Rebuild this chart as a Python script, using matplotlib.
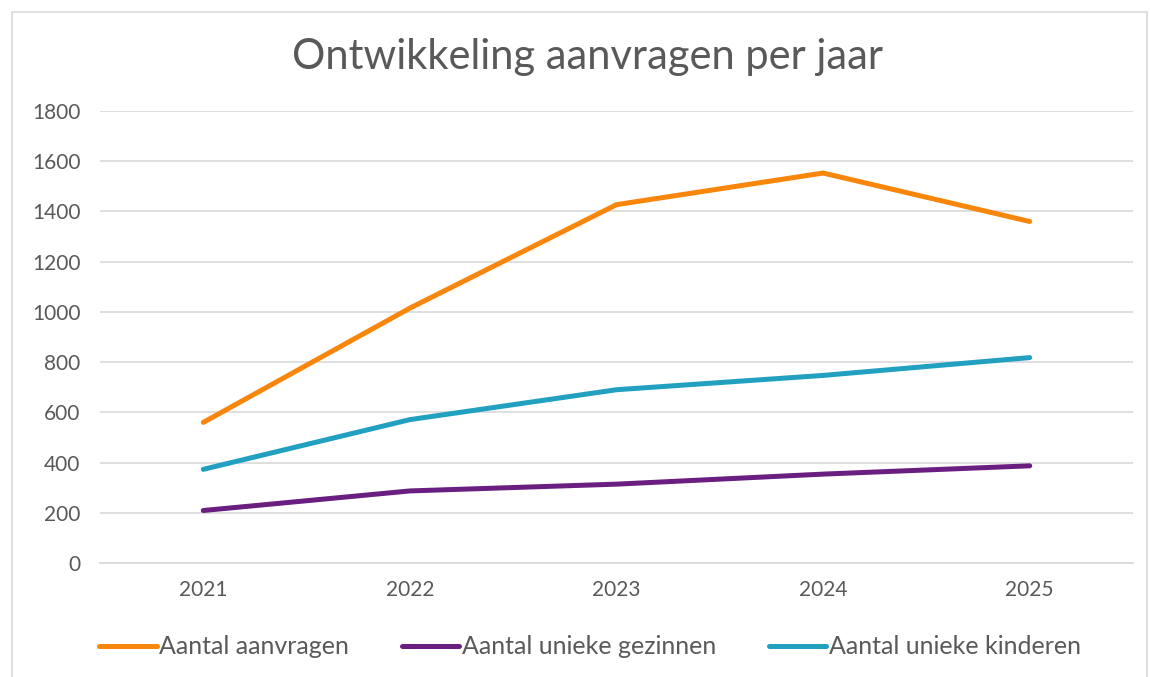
import matplotlib
matplotlib.use("Agg")
import matplotlib.pyplot as plt
from matplotlib.patches import Rectangle

years = ["2021", "2022", "2023", "2024", "2025"]
aanvragen = [560, 1015, 1427, 1553, 1360]
gezinnen = [209, 287, 314, 354, 387]
kinderen = [373, 571, 690, 747, 818]
yticks = [0, 200, 400, 600, 800, 1000, 1200, 1400, 1600, 1800]

c_orange = "#F7860B"
c_purple = "#6A1F80"
c_teal = "#21A0C0"
txt = "#595959"
grid = "#D9D9D9"

plt.rcParams['font.family'] = ['Lato', 'DejaVu Sans']

fig = plt.figure(figsize=(11.5, 6.77), dpi=100)
fig.patches.append(Rectangle((12/1150, -0.01), (1147-12)/1150, 1 - 12/677 + 0.01,
                             transform=fig.transFigure, fill=False,
                             edgecolor=grid, linewidth=1.2))
ax = fig.add_axes([100/1150, 1 - 563/677, (1133-100)/1150, (563-111)/677])

x = list(range(len(years)))
for vals, col, lab in [(aanvragen, c_orange, "Aantal aanvragen"),
                       (gezinnen, c_purple, "Aantal unieke gezinnen"),
                       (kinderen, c_teal, "Aantal unieke kinderen")]:
    ax.plot(x, vals, color=col, lw=3.6, solid_capstyle='round',
            solid_joinstyle='round', label=lab, zorder=3)

ax.set_xlim(-0.5, 4.5)
ax.set_ylim(0, 1800)
ax.set_yticks(yticks)
ax.set_yticklabels([str(v) for v in yticks])
ax.set_xticks(x)
ax.set_xticklabels(years)
ax.tick_params(axis='both', length=0, labelsize=15, colors=txt)
ax.tick_params(axis='y', pad=14)
ax.tick_params(axis='x', pad=12)
for s in ["top", "right", "left"]:
    ax.spines[s].set_visible(False)
ax.spines["bottom"].set_color(grid)
ax.spines["bottom"].set_linewidth(1.2)
ax.grid(axis='y', color=grid, lw=1.2, zorder=0)
ax.set_axisbelow(True)

fig.text(587/1150, 1 - 57/677, "Ontwikkeling aanvragen per jaar", ha='center', va='center',
         fontsize=30, color=txt)

leg = fig.legend(loc='center', bbox_to_anchor=(590/1150, 1 - 647/677), ncol=3,
                 frameon=False, fontsize=18, handlelength=2.3, handletextpad=0.1,
                 columnspacing=2.1)
for t in leg.get_texts():
    t.set_color(txt)

fig.savefig("out.png", dpi=100)
